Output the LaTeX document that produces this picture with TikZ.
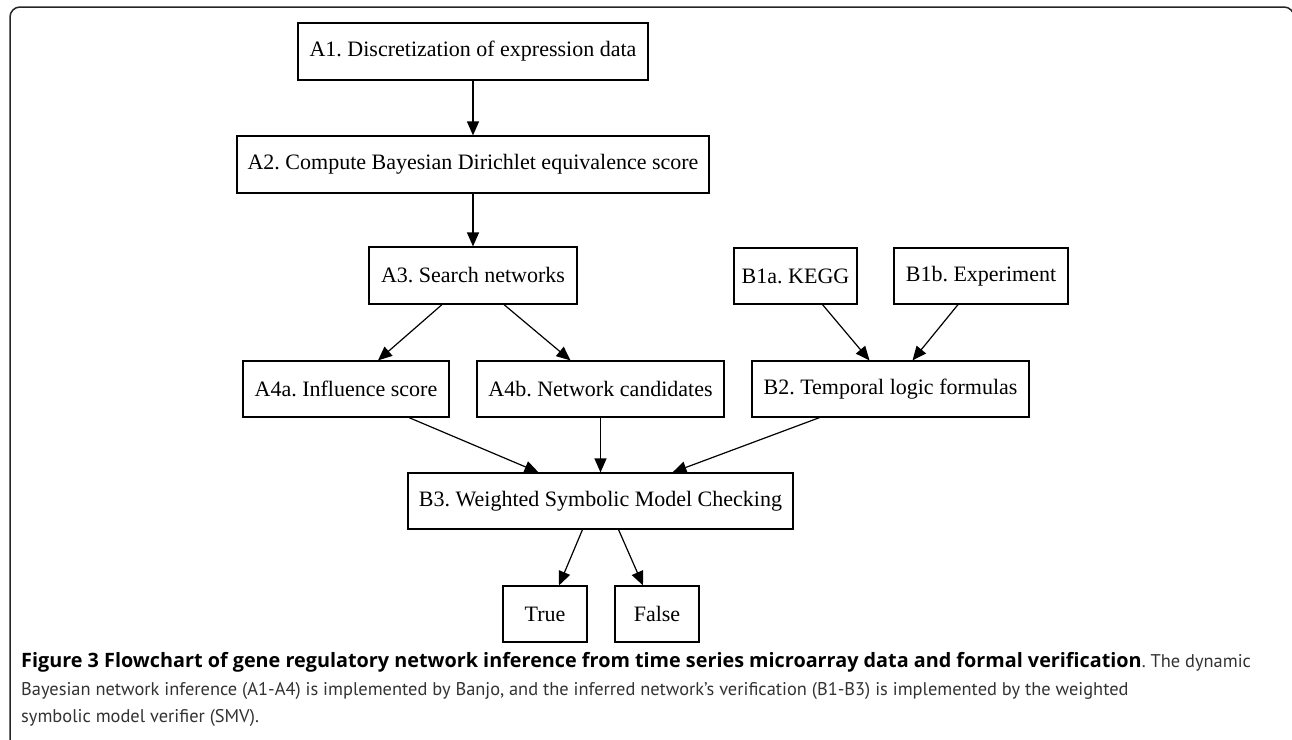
\documentclass[tikz,border=0pt]{standalone}
\usepackage{fontspec}
\setmainfont{Liberation Serif}
\newfontfamily\capfont{PT Sans}
\newfontfamily\capbold{Open Sans}
\usetikzlibrary{arrows.meta}
\definecolor{captext}{HTML}{333333}
\frenchspacing
\begin{document}
\begin{tikzpicture}[x=1pt,y=-1pt,
  flowbox/.style={draw=black, line width=1.2pt, inner sep=0pt, anchor=center,
    font=\fontsize{22}{26}\selectfont},
  flowarrow/.style={draw=black, line width=1.2pt, -{Triangle[length=14pt,width=12pt]}},
  capline/.style={anchor=base west, inner sep=0pt, text=captext,
    font=\capfont\fontsize{18.4}{22}\selectfont}
]
\useasboundingbox (0,0) rectangle (1292,739);
\fill[white] (0,0) rectangle (1292,739);
% frame
\draw[line width=1.5pt, rounded corners=10pt, draw=black!85] (10,745) -- (10,7) -- (1294,7) -- (1294,745);

% nodes
\node[flowbox, minimum width=350pt, minimum height=57pt] (A1) at (473,51.5) {A1. Discretization of expression data};
\node[flowbox, minimum width=472pt, minimum height=57pt] (A2) at (473,164.5) {A2. Compute Bayesian Dirichlet equivalence score};
\node[flowbox, minimum width=208pt, minimum height=57pt] (A3) at (473,275.5) {A3. Search networks};
\node[flowbox, minimum width=123pt, minimum height=56pt] (B1a) at (795.5,276) {B1a. KEGG};
\node[flowbox, minimum width=174pt, minimum height=56pt] (B1b) at (981,276) {B1b. Experiment};
\node[flowbox, minimum width=206pt, minimum height=56pt] (A4a) at (346,389) {A4a. Influence score};
\node[flowbox, minimum width=247pt, minimum height=56pt] (A4b) at (600.5,389) {A4b. Network candidates};
\node[flowbox, minimum width=277pt, minimum height=56pt] (B2) at (890.5,389) {B2. Temporal logic formulas};
\node[flowbox, minimum width=385pt, minimum height=56pt] (B3) at (600.5,501) {B3. Weighted Symbolic Model Checking};
\node[flowbox, minimum width=84pt, minimum height=56pt] (T) at (545,614) {True};
\node[flowbox, minimum width=84pt, minimum height=56pt] (F) at (657,614) {False};

% edges
\draw[flowarrow] (A1.south) -- (A2.north);
\draw[flowarrow] (A2.south) -- (A3.north);
\draw[flowarrow] ([xshift=-31pt]A3.south) -- ([xshift=32pt]A4a.north);
\draw[flowarrow] ([xshift=31pt]A3.south) -- ([xshift=-30pt]A4b.north);
\draw[flowarrow] ([xshift=27pt]B1a.south) -- ([xshift=-21pt]B2.north);
\draw[flowarrow] ([xshift=-23pt]B1b.south) -- ([xshift=22pt]B2.north);
\draw[flowarrow] ([xshift=63pt]A4a.south) -- ([xshift=-62pt]B3.north);
\draw[flowarrow] (A4b.south) -- (B3.north);
\draw[flowarrow] ([xshift=-71pt]B2.south) -- ([xshift=72pt]B3.north);
\draw[flowarrow] ([xshift=-18pt]B3.south) -- ([xshift=14pt]T.north);
\draw[flowarrow] ([xshift=18pt]B3.south) -- ([xshift=-14pt]F.north);

% caption
\node[capline] (cap1) at (21,667) {{\capbold\bfseries\fontsize{19.8}{22}\selectfont\color{black}Figure 3 Flowchart of gene regulatory network inference from time series microarray data and formal verification}. The dynamic};
\node[capline] (cap2) at (21,695) {Bayesian network inference (A1-A4) is implemented by Banjo, and the inferred network’s verification (B1-B3) is implemented by the weighted};
\node[capline] (cap3) at (21,722) {symbolic model verifier (SMV).};
\end{tikzpicture}
\end{document}
